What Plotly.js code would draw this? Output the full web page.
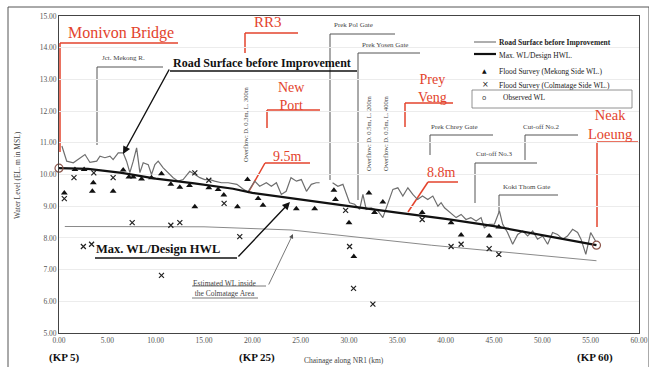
<!DOCTYPE html>
<html><head><meta charset="utf-8">
<script src="https://cdn.plot.ly/plotly-3.0.1.min.js"></script>
<style>html,body{margin:0;padding:0;background:#fff;}#chart{width:649px;height:367px;}</style>
</head><body><div id="chart"></div>
<script>
// ---- data (km along NR1, elevation m MSL) ----
const roadKm = [0.3,0.8,1.48,2.17,2.69,3.2,3.9,4.24,4.75,5.27,5.6,6.13,6.64,6.99,7.33,7.68,8.03,8.37,8.71,9.23,9.57,9.92,10.26,10.78,11.29,11.81,12.33,12.84,13.53,14.05,14.57,15.08,15.6,16.1,16.8,17.5,18.4,19.0,19.55,20.25,20.76,21.45,21.97,22.49,23.0,23.5,24.0,24.56,25.07,25.6,26.1,26.6,26.96,27.6,28.3,28.85,29.37,30.06,30.58,31.1,31.44,31.78,32.3,32.99,33.5,34.0,34.54,35.05,35.57,36.09,36.6,37.1,37.6,38.15,38.67,39.2,39.53,39.88,40.56,41.08,41.6,42.1,42.6,43.15,43.66,44.0,44.5,45.04,45.56,45.9,46.4,46.93,47.45,47.97,48.48,49.0,49.5,50.03,50.55,51.06,51.57,52.1,52.6,53.13,53.65,54.0,54.5,55.0,55.5];
const roadEl = [10.9,10.42,10.37,10.53,10.63,10.38,10.42,10.58,10.53,10.58,10.47,10.68,10.68,10.42,10.06,10.42,10.84,10.06,10.37,10.31,10.0,10.31,10.42,10.21,10.05,9.9,9.79,9.84,10.1,10.0,9.9,9.84,9.84,9.79,9.74,9.74,9.69,9.55,9.45,9.79,9.63,9.74,9.63,9.74,9.37,9.47,9.9,9.79,9.84,9.47,9.69,9.74,9.74,null,9.74,9.63,9.69,9.11,9.06,8.9,9.37,8.9,8.95,8.85,8.64,9.06,9.53,9.58,9.32,9.58,9.37,9.21,9.32,9.21,9.32,9.0,9.11,8.95,8.79,8.64,8.74,8.58,8.64,8.53,8.64,8.32,8.43,8.43,8.85,8.43,8.17,7.8,8.11,8.22,8.06,8.22,7.96,8.06,7.8,8.17,8.11,7.96,8.06,8.27,8.17,7.96,7.48,8.17,7.9];
const hwlKm = [0,3,6.5,10,14,18,20,25,30,35,40,45,50,55.6];
const hwlEl = [10.2,10.18,10.05,9.87,9.72,9.55,9.42,9.2,9.0,8.8,8.6,8.37,8.08,7.77];
const estKm = [0.6,15,24,38.5,55.6];
const estEl = [8.36,8.35,8.25,7.77,7.28];
const mekongKm = [0.55,1.65,2.6,3.55,3.45,5.6,6.64,7.23,7.68,8.54,9.57,10.6,11.57,12.5,13.5,14.05,15.5,16.46,17.05,18.46,19.5,20.6,21.1,24.55,26.45,28.44,28.6,30.0,30.5,32.06,32.64,33.5,37.57,40.56,41.6,44.5,45.5];
const mekongEl = [9.42,10.16,10.16,9.74,9.47,9.47,10.14,9.92,9.92,9.86,9.9,10.02,9.69,9.6,9.65,8.98,9.58,9.53,9.35,8.98,9.84,9.24,9.03,8.92,8.92,9.5,9.21,8.48,7.41,9.42,8.8,9.13,8.8,8.48,8.09,8.06,8.34];
const colmKm = [0.55,1.55,2.52,3.37,3.6,5.6,7.57,10.6,11.57,12.5,14.05,15.5,17.08,18.7,29.65,30.06,30.47,32.47,37.57,40.56,41.6,44.5,45.5];
const colmEl = [9.24,9.9,7.73,7.8,10.05,9.9,8.48,6.82,8.4,8.48,10.05,9.82,9.09,8.04,8.87,7.73,6.41,5.91,8.58,7.73,7.8,7.66,7.48];
const obsKm = [0,55.6];
const obsEl = [10.2,7.77];
const xTicks = [0,5,10,15,20,25,30,35,40,45,50,55,60];
const yTicks = [5,6,7,8,9,10,11,12,13,14,15];

// ---- pixel helpers for annotations / leader lines ----
const L=59, T=16, W=580, H=317;
const px = p => (p-L)/W;
const py = p => (T+H-p)/H;
const RED = '#e3432c', GRAY='#555', SERIF='Liberation Serif, Times New Roman, serif';

const traces = [
 {x:estKm, y:estEl, mode:'lines', line:{color:'#8a8a8a', width:1}, hoverinfo:'skip'},
 {x:roadKm, y:roadEl, mode:'lines', line:{color:'#6e6e6e', width:1.2}, connectgaps:false},
 {x:hwlKm, y:hwlEl, mode:'lines', line:{color:'#111', width:2.2}},
 {x:mekongKm, y:mekongEl, mode:'markers', marker:{symbol:'triangle-up', size:6, color:'#111'}},
 {x:colmKm, y:colmEl, mode:'markers', marker:{symbol:'x-thin', size:5, line:{color:'#222', width:1.2}}},
 {x:obsKm, y:obsEl, mode:'markers', marker:{symbol:'circle-open', size:8, line:{color:'#444', width:1.2}}, cliponaxis:false}
];

function seg(x0,y0,x1,y1,color,w){return {type:'line',xref:'paper',yref:'paper',layer:'below',x0:px(x0),y0:py(y0),x1:px(x1),y1:py(y1),line:{color:color,width:w||1}};}
const shapes = [
 // Monivon Bridge
 seg(178,43,60,43,RED,1.5), seg(60,43,60,152,RED,1.5),
 // RR3
 seg(245,33,298,33,RED,1.5), seg(245,33,245,53,RED,1.5),
 // New Port
 seg(267,110,320,110,RED,1.5), seg(267,110,267,128,RED,1.5),
 // 9.5m
 seg(265,163,310,163,RED,1.5), seg(265,163,248,193,RED,1.5),
 // Prey Veng
 seg(405,103,453,103,RED,1.5), seg(405,103,405,127,RED,1.5),
 // 8.8m
 seg(428,182,458,182,RED,1.5), seg(428,182,408,212,RED,1.5),
 // Neak Loeung
 seg(597,142,638,142,RED,1.5), seg(597,142,597,227,RED,1.5),
 // gray gate leaders
 seg(97,67,163,67,GRAY,1), seg(97,67,97,145,GRAY,1),
 seg(330,34,395,34,GRAY,1), seg(330,34,330,180,GRAY,1),
 seg(358,53,420,53,GRAY,1), seg(358,53,358,200,GRAY,1),
 seg(430,135,493,135,GRAY,1), seg(430,135,430,155,GRAY,1),
 seg(525,135,578,135,GRAY,1), seg(525,135,525,160,GRAY,1),
 seg(475,163,537,163,GRAY,1), seg(475,163,475,203,GRAY,1),
 seg(499,195,558,195,GRAY,1), seg(499,195,499,212,GRAY,1),
 // bold label underlines
 seg(170,71,357,71,'#111',1.3),
 seg(95,258,237,258,'#111',1.3),
 seg(192,286,266,286,'#555',0.8), seg(192,298,258,298,'#555',0.8),
 // legend sample lines and box
 seg(474,42,496,42,'#777',1.2), seg(474,54,496,54,'#111',2.2),
 {type:'rect',xref:'paper',yref:'paper',x0:px(472),y0:py(90),x1:px(632),y1:py(108),line:{color:'#777',width:0.8}}
];

function txt(x,y,t,o){return Object.assign({xref:'paper',yref:'paper',x:px(x),y:py(y),text:t,showarrow:false,xanchor:'left',yanchor:'middle',font:{family:SERIF,size:7,color:'#444'}},o||{});}
function redTxt(x,y,t,size){return txt(x,y,t,{font:{family:SERIF,size:size||15,color:RED}});}
function arrow(xh,yh,xt,yt,color,w){return {xref:'paper',yref:'paper',x:px(xh),y:py(yh),ax:xt-xh,ay:yt-yh,axref:'pixel',ayref:'pixel',text:'',showarrow:true,arrowhead:2,arrowsize:1.1,arrowwidth:w,arrowcolor:color};}

const annotations = [
 redTxt(66,33,'Monivon Bridge',16),
 redTxt(252,22,'RR3',15),
 txt(276,96,'New<br>Port',{font:{family:SERIF,size:14,color:RED},yanchor:'middle'}),
 redTxt(271,156,'9.5m',14),
 txt(416,88,'Prey<br>Veng',{font:{family:SERIF,size:14,color:RED}}),
 redTxt(425,172,'8.8m',14),
 txt(586,125,'Neak<br>Loeung',{font:{family:SERIF,size:14.5,color:RED}}),
 txt(100,58,'Jct. Mekong R.'),
 txt(332,25,'Prek Pol Gate'),
 txt(360,45,'Prek Yosen Gate'),
 txt(429,127,'Prek Chrey Gate'),
 txt(521,127,'Cut-off No.2'),
 txt(474,154,'Cut-off No.3'),
 txt(501,187,'Koki Thom Gate'),
 txt(245,124,'Overflow: D. 0.3m, L. 300m',{textangle:-90,xanchor:'center',font:{family:SERIF,size:6.5,color:'#444'}}),
 txt(368,134,'Overflow: D. 0.5m, L. 200m',{textangle:-90,xanchor:'center',font:{family:SERIF,size:6.5,color:'#444'}}),
 txt(385,134,'Overflow: D. 0.5m, L. 400m',{textangle:-90,xanchor:'center',font:{family:SERIF,size:6.5,color:'#444'}}),
 txt(171,63,'<b>Road Surface before Improvement</b>',{font:{family:SERIF,size:12,color:'#111'}}),
 txt(94,249,'<b>Max. WL/Design HWL</b>',{font:{family:SERIF,size:12.5,color:'#111'}}),
 txt(191,288,'Estimated WL inside<br>the Colmatage Area',{font:{family:SERIF,size:7.5,color:'#444'}}),
 arrow(123,154,170,68,'#111',1.4),
 arrow(290,202,237,258,'#111',1.4),
 arrow(293,234,268,286,'#555',0.8),
 // legend
 txt(497,42,'<b>Road Surface before Improvement</b>',{font:{family:SERIF,size:7.5,color:'#222'}}),
 txt(497,55,'Max. WL/Design HWL.',{font:{family:SERIF,size:7.5,color:'#222'}}),
 txt(480,70,'▲',{font:{family:'DejaVu Sans',size:6,color:'#111'}}),
 txt(497,71,'Flood Survey (Mekong Side WL.)',{font:{family:SERIF,size:7.5,color:'#222'}}),
 txt(480,84,'×',{font:{family:'DejaVu Sans',size:8,color:'#222'}}),
 txt(497,85,'Flood Survey (Colmatage Side WL.)',{font:{family:SERIF,size:7.5,color:'#222'}}),
 txt(480,98,'o',{font:{family:'DejaVu Sans',size:7,color:'#444'}}),
 txt(501,98,'Observed WL',{font:{family:SERIF,size:7.5,color:'#222'}}),
 // KP labels and axis title
 txt(64,357,'<b>(KP 5)</b>',{xanchor:'center',font:{family:SERIF,size:11,color:'#111'}}),
 txt(257,357,'<b>(KP 25)</b>',{xanchor:'center',font:{family:SERIF,size:11,color:'#111'}}),
 txt(595,357,'<b>(KP 60)</b>',{xanchor:'center',font:{family:SERIF,size:11,color:'#111'}}),
 txt(302,361,'Chainage along NR1 (km)',{font:{family:SERIF,size:7.5,color:'#444'}}),
 txt(17,175,'Water Level (EL. m in MSL)',{textangle:-90,xanchor:'center',font:{family:SERIF,size:7.5,color:'#444'}})
];

const layout = {
 width:649, height:367, margin:{l:59,r:10,t:16,b:34},
 paper_bgcolor:'#fff', plot_bgcolor:'rgba(0,0,0,0)', showlegend:false,
 xaxis:{range:[0,60], tickvals:xTicks, ticktext:xTicks.map(v=>v.toFixed(2)), showgrid:false, zeroline:false,
   showline:true, linecolor:'#444', linewidth:1, mirror:true, ticks:'', tickfont:{family:SERIF,size:7.5,color:'#555'}},
 yaxis:{range:[5,15], tickvals:yTicks, ticktext:yTicks.map(v=>v.toFixed(2)), showgrid:true, gridcolor:'#ececec', zeroline:false,
   showline:true, linecolor:'#444', linewidth:1, mirror:true, ticks:'', tickfont:{family:SERIF,size:7.5,color:'#555'}},
 shapes:shapes, annotations:annotations
};
layout.shapes.push({type:'rect',xref:'paper',yref:'paper',x0:px(8),y0:py(7),x1:px(649),y1:py(380),line:{color:'#555',width:1},layer:'below'});
Plotly.newPlot('chart', traces, layout, {staticPlot:true, displayModeBar:false});
</script></body></html>
